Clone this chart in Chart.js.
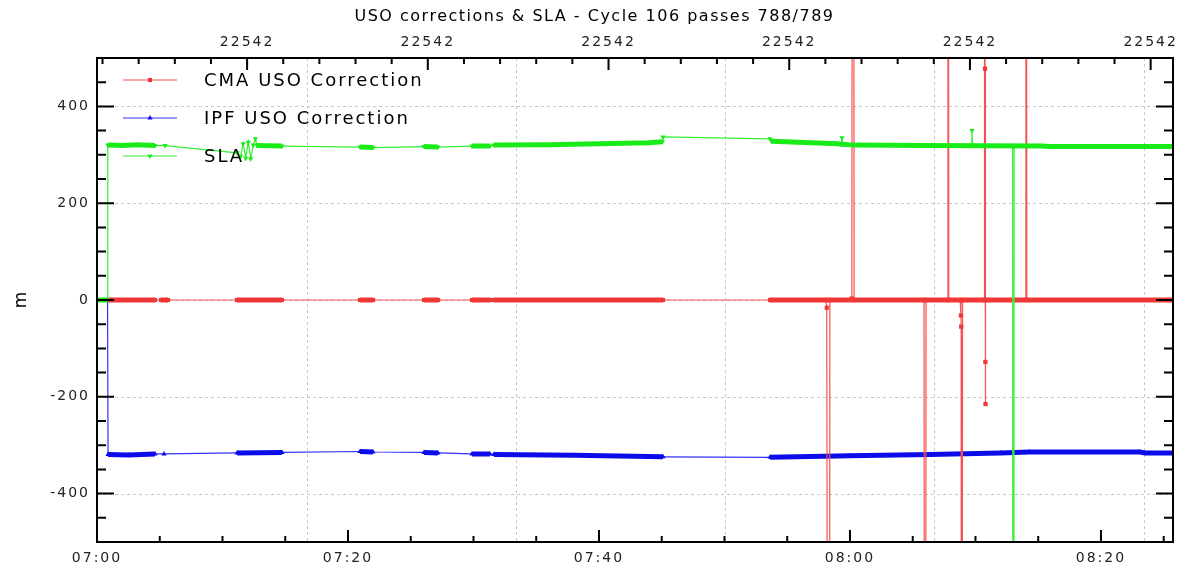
<!DOCTYPE html>
<html>
<head>
<meta charset="utf-8">
<title>USO corrections &amp; SLA</title>
<script src="https://cdn.jsdelivr.net/npm/chart.js@4/dist/chart.umd.min.js"></script>
<style>
  html, body { margin: 0; padding: 0; background: #fff; }
  #wrap { position: relative; width: 1189px; height: 573px; }
</style>
</head>
<body>
<div id="wrap"><canvas id="usoChart"></canvas></div>
<script>
// x = minutes after 07:00, y = metres
const titleText = 'USO corrections & SLA - Cycle 106 passes 788/789';
const seriesNames = ['CMA USO Correction', 'IPF USO Correction', 'SLA'];
const xMax = 85.74;
const bottomTicks = [0, 20, 40, 60, 80];
const bottomMinorStep = 5;
const topTicks = [11.96, 26.36, 40.76, 55.16, 69.56, 83.96];
const topMinorStep = 2.88;
const topLabel = '22542';
const gridX = [16.73, 33.40, 50.07, 66.73, 83.40];
const yTicks = [-400, -200, 0, 200, 400];
const yMinorStep = 50;

// dense stretches of samples (drawn as a thick band), [minute, value]
const cmaRuns = [
  [[0.88, 0], [4.62, 0]],
  [[5.10, 0], [5.66, 0]],
  [[11.16, 0], [14.74, 0]],
  [[20.96, 0], [21.99, 0]],
  [[26.06, 0], [27.17, 0]],
  [[29.88, 0], [31.31, 0]],
  [[31.63, 0], [45.10, 0]],
  [[53.63, 0], [85.74, 0]]
];
// single samples and spikes
const cmaPoints = [
  [0, 0], [58.08, 0], [58.15, -16], [58.32, -3000], [58.40, 0],
  [60.15, 3], [60.24, 3000], [60.33, 0],
  [65.90, 0], [65.98, -3000], [66.06, 0],
  [67.75, 0], [67.81, 3000], [67.87, 0],
  [68.78, 0], [68.84, -32], [68.86, -55], [68.90, -3000], [68.97, 0],
  [70.70, 0], [70.72, 3000], [70.76, 478], [70.78, 0], [70.79, -128], [70.80, -215], [70.82, 0],
  [73.95, 0], [74.02, 3000], [74.09, 0]
];

const ipfRuns = [
  [[0.88, -319], [2.50, -320], [4.62, -318]],
  [[11.16, -316], [14.74, -315]],
  [[20.96, -313], [21.99, -314]],
  [[26.06, -315], [27.17, -316]],
  [[29.88, -318], [31.31, -318]],
  [[31.63, -319], [38.00, -321], [45.10, -324]],
  [[53.63, -325], [60.00, -322], [66.40, -319], [72.00, -316], [74.30, -314], [83.10, -314], [83.50, -316], [85.74, -316]]
];
const ipfPoints = [
  [0, 0], [0.84, 0], [5.34, -318]
];

const slaRuns = [
  [[0, 0], [0.80, 0]],
  [[0.86, 320], [2.00, 319], [3.20, 321], [4.62, 319]],
  [[12.75, 319], [14.74, 318]],
  [[20.96, 316], [21.99, 315]],
  [[26.06, 317], [27.17, 316]],
  [[29.88, 318], [31.31, 318]],
  [[31.63, 320], [36.00, 321], [40.00, 323], [44.00, 325], [45.05, 327]],
  [[53.75, 328], [59.00, 323], [60.30, 320], [66.00, 319], [75.40, 318], [75.80, 317], [85.74, 317]]
];
const slaPoints = [
  [5.42, 319], [11.16, 304], [11.45, 297], [11.65, 323], [11.85, 293], [12.05, 326],
  [12.25, 292], [12.45, 320], [12.62, 333], [45.10, 337], [53.63, 333],
  [59.30, 322], [59.36, 335], [59.42, 322],
  [69.66, 319], [69.72, 350], [69.78, 319],
  [72.96, 318], [73.02, -3000], [73.08, 318]
];

const colors = {
  cma: { band: 'rgb(240,55,55)', line: 'rgb(246,80,80)' },
  ipf: { band: 'rgb(12,12,235)', line: 'rgb(50,50,250)' },
  sla: { band: 'rgb(25,235,25)', line: 'rgb(50,240,50)' }
};

// thick band: runs separated by gaps
function bandData(runs) {
  const out = [];
  runs.forEach((run, i) => {
    if (i > 0) out.push({ x: run[0][0] - 0.01, y: null });
    run.forEach(p => out.push({ x: p[0], y: p[1] }));
  });
  return out;
}
// thin connecting line through every sample
function lineData(runs, points) {
  const all = [];
  runs.forEach(run => run.forEach(p => all.push(p)));
  points.forEach(p => all.push(p));
  all.sort((a, b) => a[0] - b[0]);
  return all.map(p => ({ x: p[0], y: p[1] }));
}

function makeSeries(runs, points, c, style, rotation, order) {
  return [{
    label: 'band',
    data: bandData(runs),
    borderColor: c.band,
    borderWidth: 5,
    pointRadius: 0,
    spanGaps: false,
    order: order
  }, {
    label: 'line',
    data: lineData(runs, points),
    borderColor: c.line,
    backgroundColor: c.band,
    borderWidth: 1.2,
    pointRadius: 3,
    pointBorderWidth: 0,
    pointStyle: style,
    pointRotation: rotation,
    order: order + 1
  }];
}

const legendItems = [
  { name: seriesNames[0], c: colors.cma, style: 'rect', rot: 0 },
  { name: seriesNames[1], c: colors.ipf, style: 'triangle', rot: 0 },
  { name: seriesNames[2], c: colors.sla, style: 'triangle', rot: 180 }
];

const fontFamily = '"DejaVu Sans", Verdana, sans-serif';

const decor = {
  id: 'decor',
  beforeDraw(chart) {
    chart.ctx.letterSpacing = '2px';
  },
  beforeDatasetsDraw(chart) {
    const { ctx, chartArea: a, scales } = chart;
    ctx.save();
    ctx.strokeStyle = '#c8c8c8';
    ctx.lineWidth = 1;
    ctx.setLineDash([3, 3]);
    ctx.beginPath();
    gridX.forEach(v => {
      const x = Math.round(scales.x.getPixelForValue(v)) + 0.5;
      ctx.moveTo(x, a.top); ctx.lineTo(x, a.bottom);
    });
    yTicks.forEach(v => {
      const y = Math.round(scales.y.getPixelForValue(v)) + 0.5;
      ctx.moveTo(a.left, y); ctx.lineTo(a.right, y);
    });
    ctx.stroke();
    ctx.restore();
  },
  afterDraw(chart) {
    const { ctx, chartArea: a, scales } = chart;
    ctx.save();
    ctx.strokeStyle = '#000';
    ctx.lineWidth = 2;
    ctx.beginPath();
    // y ticks, left and right, pointing inward
    for (let i = -9; i <= 9; i++) {
      const v = i * yMinorStep;
      const y = scales.y.getPixelForValue(v);
      const len = yTicks.includes(v) ? 17 : 9;
      ctx.moveTo(a.left, y); ctx.lineTo(a.left + len, y);
      ctx.moveTo(a.right, y); ctx.lineTo(a.right - len, y);
    }
    // bottom time ticks
    for (let i = 0; i * bottomMinorStep <= xMax; i++) {
      const v = i * bottomMinorStep;
      const x = scales.x.getPixelForValue(v);
      const len = bottomTicks.includes(v) ? 12 : 6;
      ctx.moveTo(x, a.bottom); ctx.lineTo(x, a.bottom - len);
    }
    // top day ticks
    for (let i = -4; topTicks[0] + i * topMinorStep <= xMax; i++) {
      const v = topTicks[0] + i * topMinorStep;
      const x = scales.x2.getPixelForValue(v);
      const len = i % 5 === 0 ? 12 : 6;
      ctx.moveTo(x, a.top); ctx.lineTo(x, a.top + len);
    }
    ctx.stroke();
    ctx.strokeRect(a.left, a.top, a.right - a.left, a.bottom - a.top);

    // legend inside the plot
    ctx.letterSpacing = '2px';
    ctx.font = '18px ' + fontFamily;
    ctx.textBaseline = 'middle';
    ctx.textAlign = 'left';
    legendItems.forEach((it, i) => {
      const y = a.top + 22 + i * 38;
      ctx.strokeStyle = it.c.line;
      ctx.lineWidth = 1;
      ctx.beginPath();
      ctx.moveTo(a.left + 26, y); ctx.lineTo(a.left + 80, y);
      ctx.stroke();
      ctx.fillStyle = it.c.band;
      Chart.helpers.drawPoint(ctx, { pointStyle: it.style, radius: 3, rotation: it.rot, borderWidth: 0 }, a.left + 53, y);
      ctx.fillStyle = '#000';
      ctx.fillText(it.name, a.left + 107, y + 1);
    });

    // title
    ctx.letterSpacing = '1.5px';
    ctx.font = '16px ' + fontFamily;
    ctx.textAlign = 'center';
    ctx.fillStyle = '#000';
    ctx.fillText(titleText, chart.width / 2, 17);

    // y axis title
    ctx.letterSpacing = '0px';
    ctx.font = '17px ' + fontFamily;
    ctx.translate(22, (a.top + a.bottom) / 2);
    ctx.rotate(-Math.PI / 2);
    ctx.fillText('m', 0, 0);
    ctx.restore();
  }
};

function hhmm(v) {
  const total = 7 * 60 + Math.round(v);
  const h = Math.floor(total / 60), m = total % 60;
  return String(h).padStart(2, '0') + ':' + String(m).padStart(2, '0');
}

const tickFont = { family: fontFamily, size: 14 };

new Chart(document.getElementById('usoChart'), {
  type: 'line',
  data: {
    datasets: [
      ...makeSeries(slaRuns, slaPoints, colors.sla, 'triangle', 180, 0),
      ...makeSeries(cmaRuns, cmaPoints, colors.cma, 'rect', 0, 2),
      ...makeSeries(ipfRuns, ipfPoints, colors.ipf, 'triangle', 0, 4)
    ]
  },
  options: {
    responsive: true,
    maintainAspectRatio: false,
    animation: false,
    events: [],
    layout: { padding: { left: 0, top: 0, right: 16, bottom: 0 } },
    plugins: { legend: { display: false }, tooltip: { enabled: false }, title: { display: false } },
    scales: {
      x: {
        type: 'linear', position: 'bottom', min: 0, max: xMax,
        afterBuildTicks: s => { s.ticks = bottomTicks.map(v => ({ value: v })); },
        afterFit: s => { s.height = 31; },
        grid: { display: false, drawTicks: false },
        border: { display: false },
        ticks: { font: tickFont, color: '#222', padding: 8, maxRotation: 0, autoSkip: false, callback: v => hhmm(v) }
      },
      x2: {
        type: 'linear', position: 'top', min: 0, max: xMax,
        afterBuildTicks: s => { s.ticks = topTicks.map(v => ({ value: v })); },
        afterFit: s => { s.height = 58; },
        grid: { display: false, drawTicks: false },
        border: { display: false },
        ticks: { font: tickFont, color: '#222', padding: 7, maxRotation: 0, autoSkip: false, callback: () => topLabel }
      },
      y: {
        type: 'linear', min: -500, max: 500,
        afterBuildTicks: s => { s.ticks = yTicks.map(v => ({ value: v })); },
        afterFit: s => { s.width = 97; },
        grid: { display: false, drawTicks: false },
        border: { display: false },
        ticks: { font: tickFont, color: '#222', padding: 7 }
      }
    }
  },
  plugins: [decor]
});
</script>
</body>
</html>
